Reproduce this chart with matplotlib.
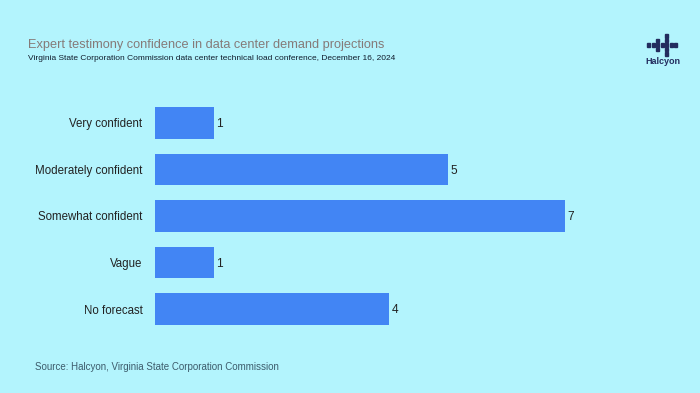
import matplotlib.pyplot as plt
from matplotlib.patches import Rectangle

categories = ['Very confident', 'Moderately confident', 'Somewhat confident', 'Vague', 'No forecast']
counts = [1, 5, 7, 1, 4]

bg = '#b3f4fd'
bar_color = '#4285f4'
navy = '#232c5e'

plt.rcParams['font.family'] = ['Liberation Sans', 'DejaVu Sans']

fig = plt.figure(figsize=(7, 3.93), dpi=100)
fig.patch.set_facecolor(bg)

W, H = 700, 393
left, unit = 155, 58.57
top, bot = 95, 337
ax = fig.add_axes([left / W, 1 - bot / H, 8 * unit / W, (bot - top) / H])
ax.set_facecolor(bg)

ypos = list(range(len(categories)))
ax.barh(ypos, counts, height=0.68, color=bar_color)
for y, v in zip(ypos, counts):
    ax.text(v + 0.04, y + 0.03, str(v), va='center', ha='left', fontsize=8.6, color='#222222')

ax.set_yticks(ypos)
ax.set_yticklabels(categories, fontsize=8.3, color='#222222')
ax.set_xlim(0, 8)
ax.set_ylim(len(categories) - 0.4, -0.6)
ax.set_xticks([])
ax.tick_params(axis='y', length=0, pad=9)
for s in ax.spines.values():
    s.set_visible(False)

# titles
fig.text(28 / W, 1 - 45 / H, 'Expert testimony confidence in data center demand projections',
         fontsize=9.2, color='#857a78', va='center', ha='left')
fig.text(28 / W, 1 - 58 / H,
         'Virginia State Corporation Commission data center technical load conference, December 16, 2024',
         fontsize=6.0, color='#101c2c', va='center', ha='left')
fig.text(35 / W, 1 - 367 / H, 'Source: Halcyon, Virginia State Corporation Commission',
         fontsize=7.0, color='#3d5c6c', va='center', ha='left')

# logo
s = 4.5
x0, y0 = 647, 33
logo_cells = [(0, 4), (1, 2), (1, 4), (2, 0), (2, 1), (2, 2), (2, 3), (2, 4), (2, 5), (2, 6),
              (3, 2), (3, 4), (4, 4)]
for r, c in logo_cells:
    fig.patches.append(Rectangle(((x0 + c * s) / W, 1 - (y0 + (r + 1) * s) / H),
                                 (s - 1.4) / W, (s - 1.4) / H,
                                 transform=fig.transFigure, color=navy))
fig.text(663 / W, 1 - 62 / H, 'Halcyon', fontsize=6.5, color=navy, fontweight='bold',
         ha='center', va='center')

fig.savefig('out.png', dpi=100, facecolor=bg)
